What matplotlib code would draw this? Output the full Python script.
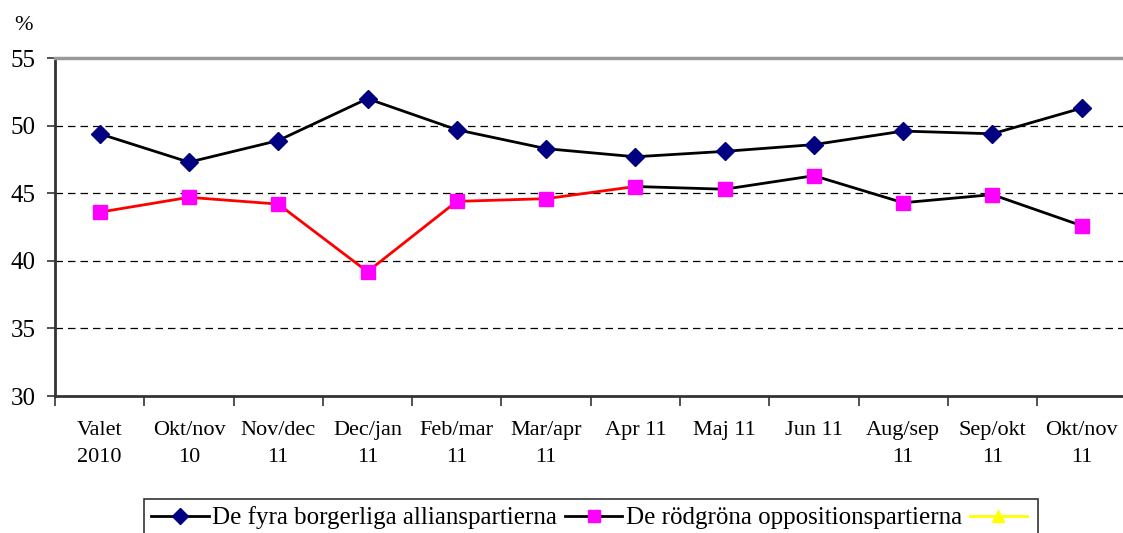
import matplotlib.pyplot as plt
from matplotlib.lines import Line2D

plt.rcParams['font.family'] = ['Liberation Serif', 'DejaVu Serif']

# survey rounds
categories = ['Valet\n2010', 'Okt/nov\n10', 'Nov/dec\n11', 'Dec/jan\n11', 'Feb/mar\n11',
              'Mar/apr\n11', 'Apr 11', 'Maj 11', 'Jun 11', 'Aug/sep\n11', 'Sep/okt\n11',
              'Okt/nov\n11']
allians = [49.4, 47.3, 48.9, 52.0, 49.7, 48.3, 47.7, 48.1, 48.6, 49.6, 49.4, 51.3]
rodgrona = [43.6, 44.7, 44.2, 39.2, 44.4, 44.6, 45.5, 45.3, 46.3, 44.3, 44.9, 42.6]
series_names = ['De fyra borgerliga allianspartierna', 'De rödgröna oppositionspartierna', '']
red_until = 6  # red line up to "Apr 11", black afterwards

fig = plt.figure(figsize=(11.23, 5.33), dpi=100)
ax = fig.add_axes([0.049, 0.257, 0.954, 0.634])

x = list(range(len(categories)))

ax.plot(x, allians, color='black', lw=2, marker='D', ms=9,
        mfc='#000080', mec='#000080', zorder=3)
ax.plot(x[:red_until + 1], rodgrona[:red_until + 1], color='red', lw=2, zorder=2)
ax.plot(x[red_until:], rodgrona[red_until:], color='black', lw=2, zorder=2)
ax.plot(x, rodgrona, ls='none', marker='s', ms=10, mfc='#ff00ff', mec='#ff00ff', zorder=3)

ax.set_xlim(-0.5, len(categories) - 0.5)
ax.set_ylim(30, 55)
ax.set_yticks([30, 35, 40, 45, 50, 55])
for v in [35, 40, 45, 50]:
    ax.axhline(v, color='black', lw=0.9, ls=(0, (6, 4)), zorder=1)

ax.set_xticks([i + 0.5 for i in x[:-1]] + [-0.5], minor=False)
ax.set_xticklabels([])
ax.set_xticks(x, minor=True)
ax.set_xticklabels(categories, minor=True, fontsize=16, linespacing=1.6)
ax.tick_params(axis='x', which='minor', length=0, pad=18)
ax.tick_params(axis='x', which='major', length=7, width=1.2, direction='out', color='#333333')
ax.tick_params(axis='y', length=6, width=1.2, labelsize=18, color='#333333', pad=8)

ax.spines['right'].set_visible(False)
ax.spines['top'].set_color('#999999')
ax.spines['top'].set_linewidth(2.5)
ax.spines['left'].set_color('#333333')
ax.spines['left'].set_linewidth(2)
ax.spines['bottom'].set_color('#333333')
ax.spines['bottom'].set_linewidth(2)

fig.text(0.013, 0.952, '%', fontsize=16, ha='left', va='center')

handles = [
    Line2D([], [], color='black', lw=2, marker='D', ms=8, mfc='#000080', mec='#000080'),
    Line2D([], [], color='black', lw=2, marker='s', ms=9, mfc='#ff00ff', mec='#ff00ff'),
    Line2D([], [], color='#ffff00', lw=2, marker='^', ms=9, mfc='#ffff00', mec='#ffff00'),
]
leg = fig.legend(handles, series_names, loc='upper left', bbox_to_anchor=(0.128, 0.064),
                 ncol=3, fontsize=18, frameon=True, fancybox=False, edgecolor='black',
                 handlelength=2.3, handletextpad=0.15, columnspacing=0.3,
                 borderpad=0.3, borderaxespad=0)
leg.get_frame().set_linewidth(1.2)

fig.savefig('out.png', dpi=100)
